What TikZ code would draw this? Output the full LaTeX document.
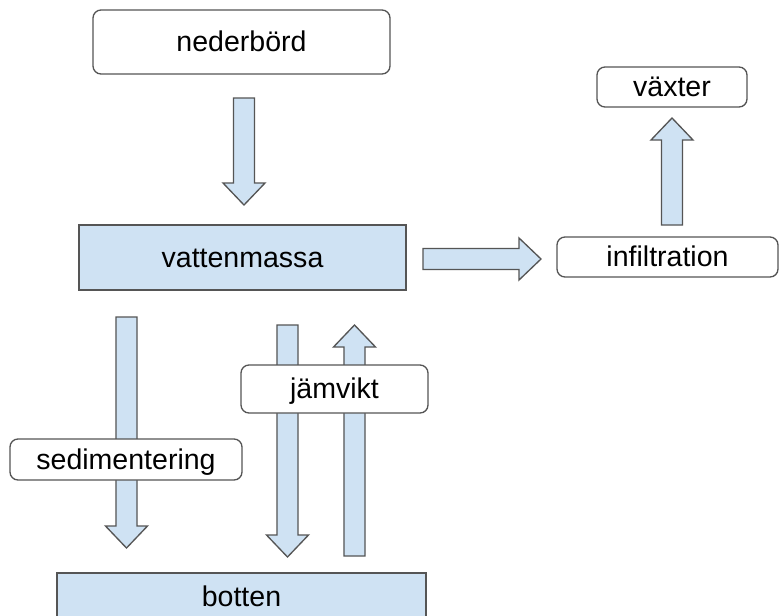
\documentclass[tikz,border=0pt]{standalone}
\usepackage{fontspec}
\setmainfont{Liberation Sans}
\usetikzlibrary{calc}
\definecolor{boxblue}{HTML}{CFE2F3}
\definecolor{edgegray}{HTML}{555555}
\tikzset{
  boxtext/.style={inner sep=0pt, text height=19.4pt, text depth=4.5pt, font=\fontsize{21.4}{25}\selectfont},
  labelbox/.style={boxtext, draw=edgegray, line width=1pt, fill=white, rounded corners=6pt},
  waterbox/.style={boxtext, draw=edgegray, line width=1pt, fill=boxblue},
  flow/.style={draw=edgegray, line width=1pt, fill=boxblue, line join=miter},
}
% block arrow from #1 to #2
\newcommand{\flowarrow}[2]{%
  \coordinate (fh) at ($(#2)!16.5pt!(#1)$);
  \draw[flow] ($(#1)!7.9pt!90:(#2)$) -- ($(fh)!7.9pt!-90:(#1)$)
    -- ($(fh)!15.75pt!-90:(#1)$) -- (#2)
    -- ($(fh)!15.75pt!90:(#1)$) -- ($(fh)!7.9pt!90:(#1)$)
    -- ($(#1)!7.9pt!-90:(#2)$) -- cycle;
}
\begin{document}
\begin{tikzpicture}[x=0.75pt, y=-0.75pt]
        \clip (0,0) rectangle (780,615);
        \fill[white] (0,0) rectangle (780,615);
        % arrow ends
        \coordinate (rainS) at (244,98);
        \coordinate (rainE) at (244,205);
        \coordinate (infS) at (423,259);
        \coordinate (infE) at (541,259);
        \coordinate (plantS) at (672,225);
        \coordinate (plantE) at (672,118);
        \coordinate (sedS) at (126.5,317);
        \coordinate (sedE) at (126.5,548);
        \coordinate (downS) at (287.5,325);
        \coordinate (downE) at (287.5,557);
        \coordinate (upS) at (354.5,556);
        \coordinate (upE) at (354.5,325);
        \flowarrow{rainS}{rainE}
        \flowarrow{infS}{infE}
        \flowarrow{plantS}{plantE}
        \flowarrow{sedS}{sedE}
        \flowarrow{downS}{downE}
        \flowarrow{upS}{upE}
        % boxes
        \node[labelbox, minimum width=222.75pt, minimum height=48pt] (ned) at (241.5,42) {nederbörd};
        \node[waterbox, minimum width=245.25pt, minimum height=48.75pt] (vat) at (242.5,257.5) {vattenmassa};
        \node[labelbox, minimum width=165.75pt, minimum height=30pt] (inf) at (667.5,257) {infiltration};
        \node[labelbox, minimum width=112.5pt, minimum height=30pt] (vax) at (672,87) {växter};
        \node[labelbox, minimum width=174pt, minimum height=30.75pt] (sed) at (126,459.5) {sedimentering};
        \node[labelbox, minimum width=140.25pt, minimum height=36pt] (jam) at (334.5,389) {jämvikt};
        \node[waterbox, minimum width=276.75pt, minimum height=36pt] (bot) at (241.5,597) {botten};
    \end{tikzpicture}
\end{document}
